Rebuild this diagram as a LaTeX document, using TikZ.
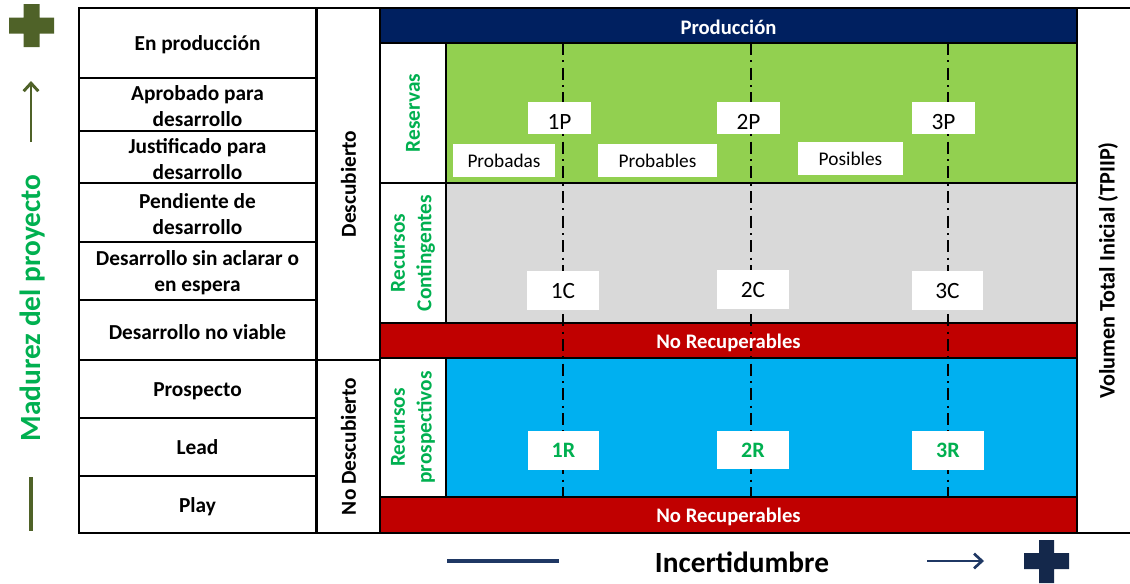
\documentclass[tikz,border=0pt]{standalone}
\usepackage{fontspec}
\setmainfont{Carlito}
\usetikzlibrary{fit,arrows.meta}
\definecolor{navy}{HTML}{002060}
\definecolor{resgreen}{HTML}{92D050}
\definecolor{cgrey}{HTML}{D9D9D9}
\definecolor{nred}{HTML}{C00000}
\definecolor{pblue}{HTML}{00B0F0}
\definecolor{tgreen}{HTML}{00B050}
\definecolor{olive}{HTML}{4F6228}
\definecolor{linenavy}{HTML}{1F3864}
\definecolor{plusnavy}{HTML}{14284B}
\begin{document}
\begin{tikzpicture}[x=0.75pt,y=-0.75pt,
  box/.style={fit={#1}, inner sep=0pt, draw=black, line width=2pt},
  lbl/.style={fit={#1}, inner sep=0pt, fill=white},
  boldtxt/.style={font=\bfseries\fontsize{16}{19.5}\selectfont, align=center, inner sep=0pt},
  greentxt/.style={font=\bfseries\fontsize{16}{20}\selectfont, align=center, text=tgreen, inner sep=0pt},
  bartxt/.style={font=\bfseries\fontsize{15.5}{18}\selectfont, text=white, inner sep=0pt, yshift=-1.5pt},
  smalltxt/.style={font=\fontsize{14.5}{17}\selectfont, inner sep=0pt},
  pnum/.style={font=\fontsize{17.5}{20}\selectfont, inner sep=0pt},
  rnum/.style={font=\bfseries\fontsize{16.5}{20}\selectfont, text=tgreen, inner sep=0pt},
  lowered/.style={yshift=-1.5pt},
  dashdot/.style={draw=black, line width=2pt, dash pattern=on 9pt off 4pt on 1.5pt off 4pt}
]
\clip (0,0) rectangle (1130,583);
\fill[white] (0,0) rectangle (1130,583);

% left column
\node[box={(79,8)(316,78)}] (c1) {};
\node[boldtxt, lowered] (c1t) at (c1.center) {En producción};
\node[box={(79,78)(316,131)}] (c2) {};
\node[boldtxt, lowered] (c2t) at (c2.center) {Aprobado para\\desarrollo};
\node[box={(79,131)(316,183)}] (c3) {};
\node[boldtxt, lowered] (c3t) at (c3.center) {Justificado para\\desarrollo};
\node[box={(79,183)(316,242)}] (c4) {};
\node[boldtxt, lowered] (c4t) at (c4.center) {Pendiente de\\desarrollo};
\node[box={(79,242)(316,300)}] (c5) {};
\node[boldtxt, lowered] (c5t) at (c5.center) {Desarrollo sin aclarar o\\en espera};
\node[box={(79,300)(316,360)}] (c6) {};
\node[boldtxt, lowered] (c6t) at (c6.center) {Desarrollo no viable};
\node[box={(79,360)(316,418)}] (c7) {};
\node[boldtxt, lowered] (c7t) at (c7.center) {Prospecto};
\node[box={(79,418)(316,476)}] (c8) {};
\node[boldtxt] (c8t) at (c8.center) {Lead};
\node[box={(79,476)(316,533)}] (c9) {};
\node[boldtxt, lowered] (c9t) at (c9.center) {Play};

% second column
\node[box={(317,8)(380,360)}] (desc) {};
\node[rotate=90, boldtxt] (desct) at (desc.center) {Descubierto};
\node[box={(317,360)(380,533)}] (ndesc) {};
\node[rotate=90, boldtxt] (ndesct) at (ndesc.center) {No Descubierto};

% right column
\node[box={(1077,8)(1139,533)}] (vol) {};
\node[rotate=90, boldtxt, font=\bfseries\fontsize{16.6}{19}\selectfont] (volt) at (vol.center) {Volumen Total Inicial (TPIIP)};

% main grid
\node[box={(380,8)(1077,43)}, fill=navy] (prod) {};
\node[bartxt] (prodt) at (prod.center) {Producción};
\node[box={(380,43)(446,183)}, fill=white] (resb) {};
\node[rotate=90, greentxt] (rest) at (resb.center) {Reservas};
\node[box={(446,43)(1077,183)}, fill=resgreen] (resa) {};
\node[box={(380,183)(446,323)}, fill=white] (conb) {};
\node[rotate=90, greentxt] (cont) at (conb.center) {Recursos\\Contingentes};
\node[box={(446,183)(1077,323)}, fill=cgrey] (cona) {};
\node[box={(380,323)(1077,358)}, fill=nred] (nr1) {};
\node[box={(380,358)(446,497)}, fill=white] (prob) {};
\node[rotate=90, greentxt] (prot) at (prob.center) {Recursos\\prospectivos};
\node[box={(446,358)(1077,497)}, fill=pblue] (proa) {};
\node[box={(380,497)(1077,533)}, fill=nred] (nr2) {};

% dash-dot separators
\coordinate (d1t) at (563,43);  \coordinate (d1b) at (563,497);
\coordinate (d2t) at (751,43);  \coordinate (d2b) at (751,497);
\coordinate (d3t) at (948,43);  \coordinate (d3b) at (948,497);
\draw[dashdot] (d1t) -- (d1b);
\draw[dashdot] (d2t) -- (d2b);
\draw[dashdot] (d3t) -- (d3b);

\node[bartxt] (nr1t) at (nr1.center) {No Recuperables};
\node[bartxt] (nr2t) at (nr2.center) {No Recuperables};

% white labels
\node[lbl={(528,102)(591,134)}] (p1) {};
\node[pnum] (p1t) at ([yshift=-3pt]p1.center) {1P};
\node[lbl={(717,102)(780,134)}] (p2) {};
\node[pnum] (p2t) at ([yshift=-3pt]p2.center) {2P};
\node[lbl={(912,102)(975,134)}] (p3) {};
\node[pnum] (p3t) at ([yshift=-3pt]p3.center) {3P};
\node[lbl={(453,144)(555,177)}] (lprob) {};
\node[smalltxt] (lprobt) at (lprob.center) {Probadas};
\node[lbl={(598,144)(717,177)}] (lpbl) {};
\node[smalltxt] (lpblt) at (lpbl.center) {Probables};
\node[lbl={(798,142)(903,175)}] (lpos) {};
\node[smalltxt] (lpost) at (lpos.center) {Posibles};
\node[lbl={(527,271)(599,310)}] (cc1) {};
\node[pnum] (cc1t) at (cc1.center) {1C};
\node[lbl={(717,270)(789,309)}] (cc2) {};
\node[pnum] (cc2t) at (cc2.center) {2C};
\node[lbl={(912,271)(983,310)}] (cc3) {};
\node[pnum] (cc3t) at (cc3.center) {3C};
\node[lbl={(528,431)(599,470)}] (r1) {};
\node[rnum] (r1t) at (r1.center) {1R};
\node[lbl={(717,431)(789,469)}] (r2) {};
\node[rnum] (r2t) at (r2.center) {2R};
\node[lbl={(912,431)(984,470)}] (r3) {};
\node[rnum] (r3t) at (r3.center) {3R};

% left axis
\node[rotate=90, font=\bfseries\fontsize{22}{26}\selectfont, text=tgreen] (mad) at (33,308) {Madurez del proyecto};
\fill[olive] (23.5,4) -- (39.5,4) -- (39.5,17.5) -- (54,17.5) -- (54,33.5) -- (39.5,33.5) -- (39.5,47) -- (23.5,47) -- (23.5,33.5) -- (9,33.5) -- (9,17.5) -- (23.5,17.5) -- cycle;
\coordinate (ua) at (31,142); \coordinate (ub) at (31,81);
\draw[olive, line width=2.2pt, -{Straight Barb[length=6pt,width=11pt]}] (ua) -- (ub);
\coordinate (la) at (31,477); \coordinate (lb) at (31,531);
\draw[olive, line width=2.4pt] (la) -- (lb);

% bottom axis
\node[font=\bfseries\fontsize{22}{26}\selectfont] (inc) at (742,562) {Incertidumbre};
\coordinate (na) at (447,561); \coordinate (nb) at (559,561);
\draw[linenavy, line width=2.4pt] (na) -- (nb);
\coordinate (aa) at (927,561); \coordinate (ab) at (984,561);
\draw[linenavy, line width=2pt, -{Straight Barb[length=6pt,width=11pt]}] (aa) -- (ab);
\fill[plusnavy] (1039,540) -- (1054,540) -- (1054,553) -- (1069,553) -- (1069,569) -- (1054,569) -- (1054,583) -- (1039,583) -- (1039,569) -- (1024,569) -- (1024,553) -- (1039,553) -- cycle;
\end{tikzpicture}
\end{document}
